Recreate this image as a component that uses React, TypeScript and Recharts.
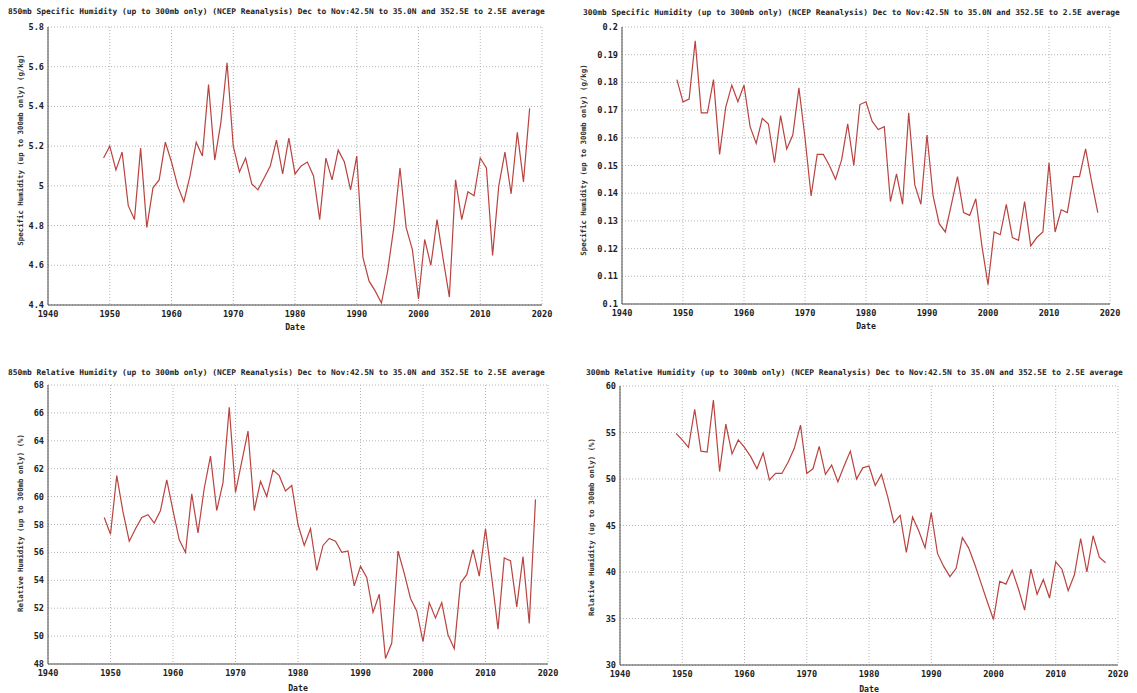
import { LineChart, Line, XAxis, YAxis, CartesianGrid, Label } from "recharts";

const YEARS = [
  1949, 1950, 1951, 1952, 1953, 1954, 1955, 1956, 1957, 1958,
  1959, 1960, 1961, 1962, 1963, 1964, 1965, 1966, 1967, 1968,
  1969, 1970, 1971, 1972, 1973, 1974, 1975, 1976, 1977, 1978,
  1979, 1980, 1981, 1982, 1983, 1984, 1985, 1986, 1987, 1988,
  1989, 1990, 1991, 1992, 1993, 1994, 1995, 1996, 1997, 1998,
  1999, 2000, 2001, 2002, 2003, 2004, 2005, 2006, 2007, 2008,
  2009, 2010, 2011, 2012, 2013, 2014, 2015, 2016, 2017, 2018,
];

// 850mb specific humidity (g/kg)
const SH_850 = [
  5.14, 5.2, 5.08, 5.17, 4.9, 4.83, 5.19, 4.79, 4.99, 5.03,
  5.22, 5.12, 5.0, 4.92, 5.05, 5.22, 5.15, 5.51, 5.13, 5.32,
  5.62, 5.2, 5.07, 5.14, 5.01, 4.98, 5.04, 5.1, 5.23, 5.06,
  5.24, 5.06, 5.1, 5.12, 5.05, 4.83, 5.14, 5.03, 5.18, 5.12,
  4.98, 5.15, 4.64, 4.52, 4.47, 4.41, 4.57, 4.79, 5.09, 4.79,
  4.68, 4.43, 4.73, 4.6, 4.83, 4.63, 4.44, 5.03, 4.83, 4.97,
  4.95, 5.14, 5.09, 4.65, 5.0, 5.17, 4.96, 5.27, 5.02, 5.39,
];

// 300mb specific humidity (g/kg)
const SH_300 = [
  0.181, 0.173, 0.174, 0.195, 0.169, 0.169, 0.181, 0.154, 0.171, 0.179,
  0.173, 0.179, 0.164, 0.158, 0.167, 0.165, 0.151, 0.168, 0.156, 0.161,
  0.178, 0.16, 0.139, 0.154, 0.154, 0.15, 0.145, 0.152, 0.165, 0.15,
  0.172, 0.173, 0.166, 0.163, 0.164, 0.137, 0.147, 0.136, 0.169, 0.143,
  0.136, 0.161, 0.139, 0.129, 0.126, 0.136, 0.146, 0.133, 0.132, 0.138,
  0.121, 0.107, 0.126, 0.125, 0.136, 0.124, 0.123, 0.137, 0.121, 0.124,
  0.126, 0.151, 0.126, 0.134, 0.133, 0.146, 0.146, 0.156, 0.144, 0.133,
];

// 850mb relative humidity (%)
const RH_850 = [
  58.5, 57.3, 61.5, 58.9, 56.8, 57.7, 58.5, 58.7, 58.1, 59.0,
  61.2, 59.0, 56.9, 56.0, 60.2, 57.4, 60.6, 62.9, 59.0, 61.0,
  66.4, 60.3, 62.5, 64.7, 59.0, 61.1, 60.0, 61.9, 61.5, 60.4,
  60.8, 58.0, 56.5, 57.7, 54.7, 56.5, 57.0, 56.8, 56.0, 56.1,
  53.6, 55.0, 54.2, 51.7, 53.0, 48.4, 49.5, 56.1, 54.5, 52.7,
  51.8, 49.6, 52.4, 51.3, 52.4, 50.1, 49.1, 53.8, 54.4, 56.2,
  54.3, 57.7, 54.2, 50.5, 55.6, 55.4, 52.1, 55.7, 50.9, 59.8,
];

// 300mb relative humidity (%)
const RH_300 = [
  54.9, 54.2, 53.4, 57.5, 53.0, 52.9, 58.5, 50.8, 55.9, 52.7,
  54.2, 53.4, 52.4, 51.1, 52.8, 49.9, 50.6, 50.6, 51.8, 53.3,
  55.8, 50.6, 51.1, 53.5, 50.5, 51.5, 49.7, 51.4, 53.0, 50.0,
  51.2, 51.4, 49.3, 50.5, 48.1, 45.3, 46.1, 42.1, 45.9, 44.4,
  42.6, 46.4, 42.0, 40.6, 39.5, 40.4, 43.7, 42.6, 40.8, 38.8,
  36.8, 34.9, 39.0, 38.7, 40.2, 38.2, 35.9, 40.3, 37.6, 39.2,
  37.2, 41.1, 40.3, 38.0, 39.7, 43.6, 40.0, 43.9, 41.6, 41.0,
];

const X_TICKS = [1940, 1950, 1960, 1970, 1980, 1990, 2000, 2010, 2020];
const SH_850_TICKS = [4.4, 4.6, 4.8, 5, 5.2, 5.4, 5.6, 5.8];
const SH_300_TICKS = [0.1, 0.11, 0.12, 0.13, 0.14, 0.15, 0.16, 0.17, 0.18, 0.19, 0.2];
const RH_850_TICKS = [48, 50, 52, 54, 56, 58, 60, 62, 64, 66, 68];
const RH_300_TICKS = [30, 35, 40, 45, 50, 55, 60];

const TAIL = " (up to 300mb only) (NCEP Reanalysis) Dec to Nov:42.5N to 35.0N and 352.5E to 2.5E average";

const FONT = '"DejaVu Sans Mono", "Liberation Mono", monospace';
const LINE_COLOR = "#b9433f";
const GRID_COLOR = "#b4b4b4";
const AXIS_COLOR = "#4a4a4a";
const TEXT_COLOR = "#222";

const tickStyle = { fontSize: 8.6, fontFamily: FONT, fontWeight: "bold", fill: TEXT_COLOR };

interface PanelProps {
  left: number;
  top: number;
  width: number;
  height: number;
  margin: { top: number; right: number; bottom: number; left: number };
  yWidth: number;
  xHeight: number;
  values: number[];
  yTicks: number[];
  fmt: (v: number) => string;
  title: string;
  titleX: number;
  titleY: number;
  yLabel: string;
  yLabelX: number;
  yLabelY: number;
  dateOffset: number;
}

const Panel = (p: PanelProps) => {
  const data = YEARS.map((year, i) => ({ year, value: p.values[i] }));
  const yDomain = [p.yTicks[0], p.yTicks[p.yTicks.length - 1]];
  return (
    <>
      <div
        style={{
          position: "absolute",
          left: p.titleX,
          top: p.titleY,
          whiteSpace: "nowrap",
          fontFamily: FONT,
          fontWeight: "bold",
          fontSize: 7.9,
          lineHeight: "10px",
          color: TEXT_COLOR,
        }}
      >
        {p.title}
      </div>
      <div
        style={{
          position: "absolute",
          left: p.yLabelX,
          top: p.yLabelY,
          transform: "translate(-50%, -50%) rotate(-90deg)",
          whiteSpace: "nowrap",
          fontFamily: FONT,
          fontWeight: "bold",
          fontSize: 7.4,
          lineHeight: "9px",
          color: "#333",
        }}
      >
        {p.yLabel}
      </div>
      <div style={{ position: "absolute", left: p.left, top: p.top }}>
        <LineChart width={p.width} height={p.height} data={data} margin={p.margin}>
          <CartesianGrid stroke={GRID_COLOR} strokeDasharray="1 2" />
          <XAxis
            dataKey="year"
            type="number"
            domain={[1940, 2020]}
            ticks={X_TICKS}
            interval={0}
            height={p.xHeight}
            tick={tickStyle}
            tickLine={false}
            tickSize={4}
            tickMargin={2}
            axisLine={{ stroke: AXIS_COLOR }}
          >
            <Label
              value="Date"
              position="insideBottom"
              offset={p.dateOffset}
              style={{ fontSize: 8.2, fontFamily: FONT, fontWeight: "bold", fill: TEXT_COLOR }}
            />
          </XAxis>
          <XAxis
            xAxisId="top"
            orientation="top"
            type="number"
            domain={[1940, 2020]}
            ticks={X_TICKS}
            height={0}
            mirror
            tick={false}
            tickSize={4}
            axisLine={{ stroke: AXIS_COLOR }}
            tickLine={{ stroke: AXIS_COLOR }}
          />
          <YAxis
            type="number"
            domain={yDomain}
            ticks={p.yTicks}
            interval={0}
            width={p.yWidth}
            tick={tickStyle}
            tickFormatter={p.fmt}
            tickLine={false}
            tickSize={2}
            tickMargin={2}
            axisLine={{ stroke: AXIS_COLOR }}
          />
          <YAxis
            yAxisId="right"
            orientation="right"
            type="number"
            domain={yDomain}
            ticks={p.yTicks}
            width={0}
            mirror
            tick={false}
            tickSize={4}
            axisLine={{ stroke: AXIS_COLOR }}
            tickLine={{ stroke: AXIS_COLOR }}
          />
          <Line
            type="linear"
            dataKey="value"
            stroke={LINE_COLOR}
            strokeWidth={1.2}
            dot={false}
            activeDot={false}
            isAnimationActive={false}
          />
        </LineChart>
      </div>
    </>
  );
};

const fmt1 = (v: number) => String(Number(v.toFixed(1)));
const fmt2 = (v: number) => String(Number(v.toFixed(2)));
const fmt0 = (v: number) => String(v);

export default function App() {
  return (
    <div
      style={{
        position: "absolute",
        left: 0,
        top: 0,
        width: 1137,
        height: 693,
        background: "#fff",
      }}
    >
      <Panel
        left={0}
        top={0}
        width={560}
        height={340}
        margin={{ top: 27, right: 18, bottom: 0, left: 0 }}
        yWidth={48}
        xHeight={35}
        values={SH_850}
        yTicks={SH_850_TICKS}
        fmt={fmt1}
        title={"850mb Specific Humidity" + TAIL}
        titleX={8}
        titleY={7}
        yLabel="Specific Humidity (up to 300mb only) (g/kg)"
        yLabelX={20}
        yLabelY={150}
        dateOffset={10}
      />
      <Panel
        left={570}
        top={0}
        width={560}
        height={340}
        margin={{ top: 27, right: 20, bottom: 0, left: 0 }}
        yWidth={52}
        xHeight={36}
        values={SH_300}
        yTicks={SH_300_TICKS}
        fmt={fmt2}
        title={"300mb Specific Humidity" + TAIL}
        titleX={583}
        titleY={8}
        yLabel="Specific Humidity (up to 300mb only) (g/kg)"
        yLabelX={583}
        yLabelY={160}
        dateOffset={11}
      />
      <Panel
        left={0}
        top={360}
        width={560}
        height={333}
        margin={{ top: 25, right: 12, bottom: 0, left: 0 }}
        yWidth={48}
        xHeight={29}
        values={RH_850}
        yTicks={RH_850_TICKS}
        fmt={fmt0}
        title={"850mb Relative Humidity" + TAIL}
        titleX={8}
        titleY={368}
        yLabel="Relative Humidity (up to 300mb only) (%)"
        yLabelX={20}
        yLabelY={523}
        dateOffset={2}
      />
      <Panel
        left={570}
        top={360}
        width={567}
        height={333}
        margin={{ top: 26, right: 19, bottom: 0, left: 0 }}
        yWidth={50}
        xHeight={28}
        values={RH_300}
        yTicks={RH_300_TICKS}
        fmt={fmt0}
        title={"300mb Relative Humidity" + TAIL}
        titleX={586}
        titleY={368}
        yLabel="Relative Humidity (up to 300mb only) (%)"
        yLabelX={591}
        yLabelY={527}
        dateOffset={1}
      />
    </div>
  );
}
